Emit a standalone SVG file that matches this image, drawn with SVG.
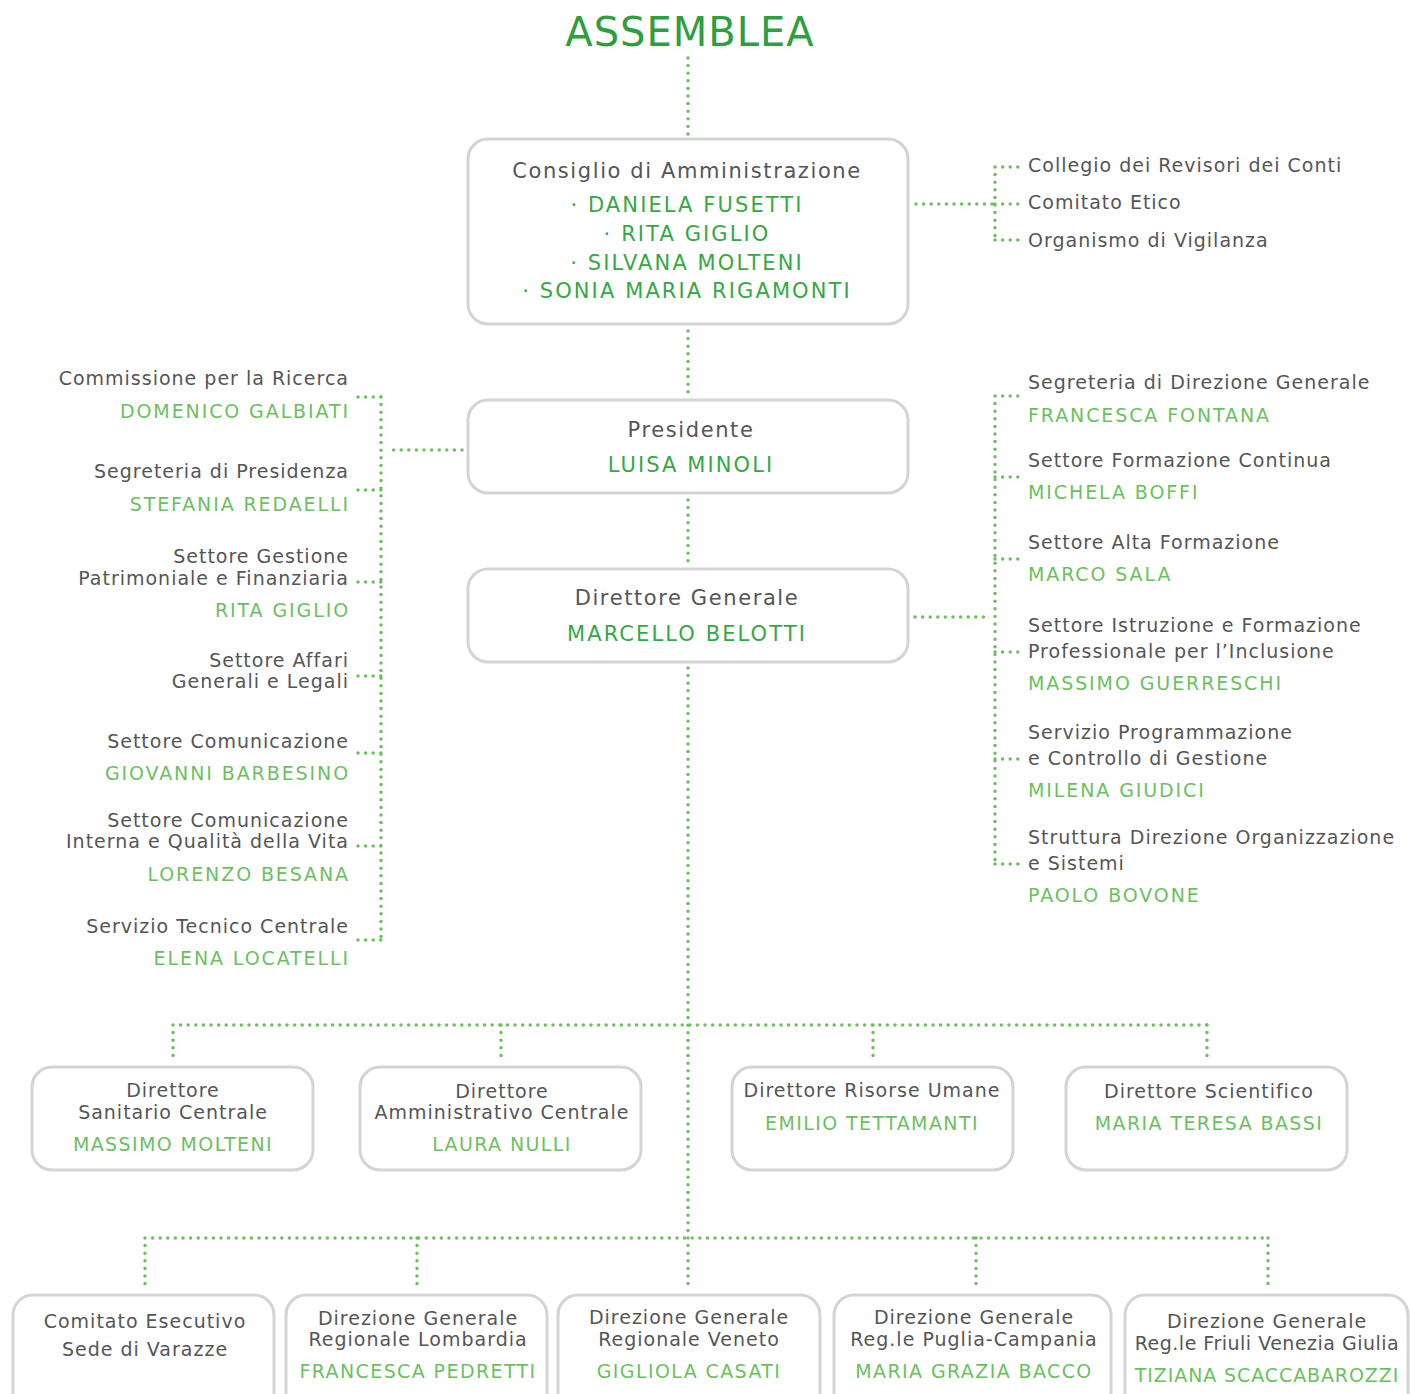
<svg xmlns="http://www.w3.org/2000/svg" width="1410" height="1394" viewBox="0 0 1410 1394">
<style>
text{font-family:"DejaVu Sans","Noto Sans",sans-serif;font-size:19px;fill:#555;letter-spacing:1px}
.g{fill:#6cbf5f;letter-spacing:1.9px}
.bg{fill:#6cbf5f;letter-spacing:1.4px}
.dg{fill:#35a843;letter-spacing:2.1px;font-size:21px}
.t{font-size:21px;letter-spacing:1.6px}
.m{text-anchor:middle}
.e{text-anchor:end}
.box{fill:#fff;stroke:#d4d4d4;stroke-width:3}
.d{fill:none;stroke:#6cbf5f;stroke-width:3.5;stroke-linecap:round;stroke-dasharray:0 7.6}
</style>
<rect width="1410" height="1394" fill="#fff"/>
<g id="connectors">
<path class="d" d="M688 58V135"/>
<path class="d" d="M916 204H995M995 167V240M995 167H1020M995 204H1020M995 240H1020"/>
<path class="d" d="M688 331V395"/>
<path class="d" d="M688 500V565"/>
<path class="d" d="M462 450H388M381 397V940M358 397H381M358 490H381M358 582H381M358 676H381M358 753H381M358 846H381M358 940H381"/>
<path class="d" d="M915 617H990M995 396V864M995 396H1020M995 477H1020M995 559H1020M995 652H1020M995 759H1020M995 864H1020"/>
<path class="d" d="M688 668V1290"/>
<path class="d" d="M173 1025H1207M173 1025V1062M501 1025V1062M873 1025V1062M1207 1025V1062"/>
<path class="d" d="M145 1238H1268M145 1238V1288M417 1238V1288M976 1238V1288M1268 1238V1288"/>
</g>
<g id="assemblea"><text class="m" x="690" y="46" style="font-size:40px;fill:#2e9e3e;letter-spacing:1px">ASSEMBLEA</text></g>
<g id="cda">
<rect class="box" x="468" y="139" width="440" height="185" rx="20"/>
<text class="m t" x="687" y="178">Consiglio di Amministrazione</text>
<text class="m dg" x="687" y="212">· DANIELA FUSETTI</text>
<text class="m dg" x="687" y="241">· RITA GIGLIO</text>
<text class="m dg" x="687" y="270">· SILVANA MOLTENI</text>
<text class="m dg" x="687" y="298">· SONIA MARIA RIGAMONTI</text>
</g>
<g id="collegio"><text x="1028" y="172">Collegio dei Revisori dei Conti</text></g>
<g id="etico"><text x="1028" y="209">Comitato Etico</text></g>
<g id="vigilanza"><text x="1028" y="247">Organismo di Vigilanza</text></g>
<g id="presidente">
<rect class="box" x="468" y="400" width="440" height="93" rx="20"/>
<text class="m t" x="691" y="437">Presidente</text>
<text class="m dg" x="691" y="472">LUISA MINOLI</text>
</g>
<g id="dg">
<rect class="box" x="468" y="569" width="440" height="93" rx="20"/>
<text class="m t" x="687" y="605">Direttore Generale</text>
<text class="m dg" x="687" y="641">MARCELLO BELOTTI</text>
</g>
<g id="l1"><text class="e" x="349" y="385">Commissione per la Ricerca</text><text class="e g" x="350" y="418">DOMENICO GALBIATI</text></g>
<g id="l2"><text class="e" x="349" y="478">Segreteria di Presidenza</text><text class="e g" x="350" y="511">STEFANIA REDAELLI</text></g>
<g id="l3"><text class="e" x="349" y="563">Settore Gestione</text><text class="e" x="349" y="585">Patrimoniale e Finanziaria</text><text class="e g" x="350" y="617">RITA GIGLIO</text></g>
<g id="l4"><text class="e" x="349" y="667">Settore Affari</text><text class="e" x="349" y="688">Generali e Legali</text></g>
<g id="l5"><text class="e" x="349" y="748">Settore Comunicazione</text><text class="e g" x="350" y="780">GIOVANNI BARBESINO</text></g>
<g id="l6"><text class="e" x="349" y="827">Settore Comunicazione</text><text class="e" x="349" y="848">Interna e Qualità della Vita</text><text class="e g" x="350" y="881">LORENZO BESANA</text></g>
<g id="l7"><text class="e" x="349" y="933">Servizio Tecnico Centrale</text><text class="e g" x="350" y="965">ELENA LOCATELLI</text></g>
<g id="r1"><text x="1028" y="389">Segreteria di Direzione Generale</text><text class="g" x="1028" y="422">FRANCESCA FONTANA</text></g>
<g id="r2"><text x="1028" y="467">Settore Formazione Continua</text><text class="g" x="1028" y="499">MICHELA BOFFI</text></g>
<g id="r3"><text x="1028" y="549">Settore Alta Formazione</text><text class="g" x="1028" y="581">MARCO SALA</text></g>
<g id="r4"><text x="1028" y="632">Settore Istruzione e Formazione</text><text x="1028" y="658">Professionale per l’Inclusione</text><text class="g" x="1028" y="690">MASSIMO GUERRESCHI</text></g>
<g id="r5"><text x="1028" y="739">Servizio Programmazione</text><text x="1028" y="765">e Controllo di Gestione</text><text class="g" x="1028" y="797">MILENA GIUDICI</text></g>
<g id="r6"><text x="1028" y="844">Struttura Direzione Organizzazione</text><text x="1028" y="870">e Sistemi</text><text class="g" x="1028" y="902">PAOLO BOVONE</text></g>
<g id="b1"><rect class="box" x="32" y="1067" width="281" height="103" rx="20"/><text class="m" x="173" y="1097">Direttore</text><text class="m" x="173" y="1119">Sanitario Centrale</text><text class="m bg" x="173" y="1151">MASSIMO MOLTENI</text></g>
<g id="b2"><rect class="box" x="360" y="1067" width="281" height="103" rx="20"/><text class="m" x="502" y="1098">Direttore</text><text class="m" x="502" y="1119">Amministrativo Centrale</text><text class="m bg" x="502" y="1151">LAURA NULLI</text></g>
<g id="b3"><rect class="box" x="732" y="1067" width="281" height="103" rx="20"/><text class="m" x="872" y="1097">Direttore Risorse Umane</text><text class="m bg" x="872" y="1130">EMILIO TETTAMANTI</text></g>
<g id="b4"><rect class="box" x="1066" y="1067" width="281" height="103" rx="20"/><text class="m" x="1209" y="1098">Direttore Scientifico</text><text class="m bg" x="1209" y="1130">MARIA TERESA BASSI</text></g>
<g id="c1"><rect class="box" x="13" y="1295" width="261" height="120" rx="20"/><text class="m" x="145" y="1328">Comitato Esecutivo</text><text class="m" x="145" y="1356">Sede di Varazze</text></g>
<g id="c2"><rect class="box" x="286" y="1295" width="261" height="120" rx="20"/><text class="m" x="418" y="1325">Direzione Generale</text><text class="m" x="418" y="1346">Regionale Lombardia</text><text class="m bg" x="418" y="1378">FRANCESCA PEDRETTI</text></g>
<g id="c3"><rect class="box" x="558" y="1295" width="262" height="120" rx="20"/><text class="m" x="689" y="1324">Direzione Generale</text><text class="m" x="689" y="1346">Regionale Veneto</text><text class="m bg" x="689" y="1378">GIGLIOLA CASATI</text></g>
<g id="c4"><rect class="box" x="834" y="1295" width="277" height="120" rx="20"/><text class="m" x="974" y="1324">Direzione Generale</text><text class="m" x="974" y="1346">Reg.le Puglia-Campania</text><text class="m bg" x="974" y="1378">MARIA GRAZIA BACCO</text></g>
<g id="c5"><rect class="box" x="1125" y="1295" width="283" height="120" rx="20"/><text class="m" x="1267" y="1328">Direzione Generale</text><text class="m" x="1267" y="1350" style="letter-spacing:0.5px">Reg.le Friuli Venezia Giulia</text><text class="m bg" x="1267" y="1382" style="letter-spacing:0.9px">TIZIANA SCACCABAROZZI</text></g>
</svg>
